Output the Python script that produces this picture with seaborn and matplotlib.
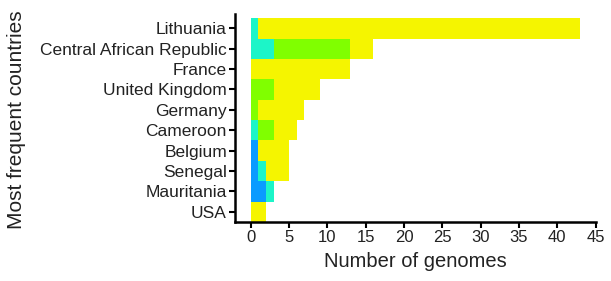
import numpy as np
import pandas as pd
import matplotlib
matplotlib.use("Agg")
import matplotlib.pyplot as plt
import seaborn as sns

countries = ['Lithuania', 'Central African Republic', 'France', 'United Kingdom',
             'Germany', 'Cameroon', 'Belgium', 'Senegal', 'Mauritania', 'USA']
# genomes per group, stacked left to right
blue = [0, 0, 0, 0, 0, 0, 1, 1, 2, 0]
cyan = [1, 3, 0, 0, 0, 1, 0, 1, 1, 0]
green = [0, 10, 0, 3, 1, 2, 0, 0, 0, 0]
yellow = [42, 3, 13, 6, 6, 3, 4, 3, 0, 2]
colors = ['#0A9BFF', '#1CF5C8', '#80FF00', '#F5F500']

df = pd.DataFrame({'country': countries, 'blue': blue, 'cyan': cyan,
                   'green': green, 'yellow': yellow})
cols = ['blue', 'cyan', 'green', 'yellow']
cum = df[cols].cumsum(axis=1)

sns.set_style('ticks')
plt.rcParams['font.family'] = ['Liberation Sans', 'DejaVu Sans']

fig = plt.figure(figsize=(6.11, 2.81), dpi=100)
ax = fig.add_axes([0.385, 0.21, 0.59, 0.74])

# draw from the longest cumulative segment down so earlier ones sit on top
for c, col in reversed(list(zip(cols, colors))):
    sns.barplot(x=cum[c], y=df['country'], orient='h', color=col,
                width=1, linewidth=0, saturation=1, ax=ax)

ax.set_xlim(-2, 45)
ax.set_ylim(9.5, -0.7)
ax.set_xticks(range(0, 46, 5))
ax.set_xlabel('Number of genomes', fontsize=14.5, color='#222222', labelpad=5)
ax.set_ylabel('Most frequent countries', fontsize=15, color='#222222')
ax.yaxis.set_label_coords(-0.58, 0.49)
ax.tick_params(axis='both', length=4, width=1.5,
               colors='black', labelcolor='#222222', pad=2)
ax.tick_params(axis='y', labelsize=12.5)
ax.tick_params(axis='x', labelsize=12)
for s in ['left', 'bottom']:
    ax.spines[s].set_linewidth(1.8)
    ax.spines[s].set_color('black')
sns.despine(ax=ax)

fig.savefig('out.png', dpi=100)
